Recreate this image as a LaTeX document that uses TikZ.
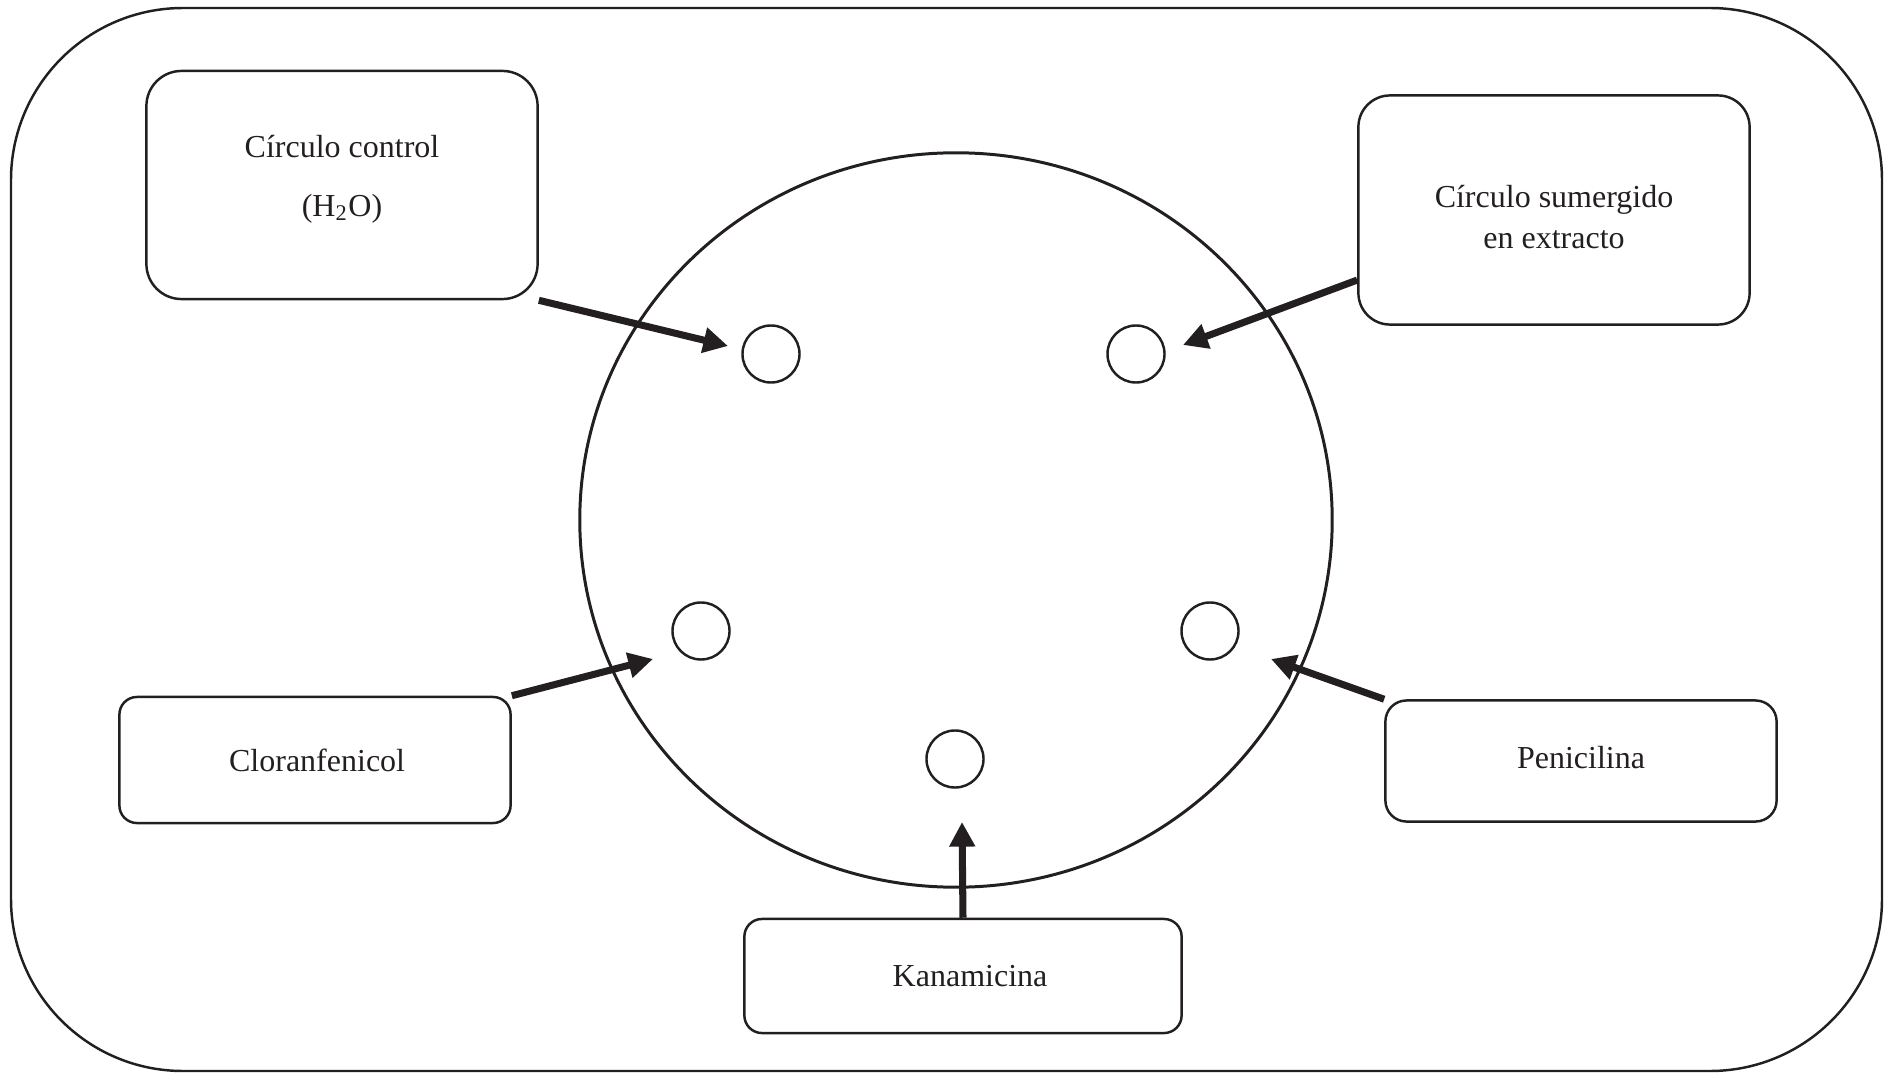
\documentclass[tikz,border=0pt]{standalone}
\usepackage{fontspec}
\setmainfont{Liberation Serif}
\usetikzlibrary{arrows.meta,shapes.geometric}
\definecolor{ink}{HTML}{231F20}

\tikzset{
  box/.style={draw=ink, line width=0.7pt, inner sep=0pt},
  txt/.style={text=ink, inner sep=0pt, align=center, font=\fontsize{9.1}{11.7}\selectfont},
  disc/.style={draw=ink, line width=0.7pt, circle, minimum size=0.57cm, inner sep=0pt},
  pointer/.style={-{Triangle[length=7pt,width=7pt]}, line width=2pt, draw=ink},
}

\begin{document}
\begin{tikzpicture}[x=0.01cm, y=-0.01cm]
  \useasboundingbox (0,0) rectangle (1893,1073);
  % frame
  \draw[ink, line width=0.7pt, rounded corners=1.72cm] (11,8) rectangle (1882,1071);
  % plate and discs
  \node[draw=ink, line width=0.85pt, ellipse, inner sep=0pt,
        minimum width=7.52cm, minimum height=7.34cm] (plate) at (956,520) {};
  \node[disc] (dctrl) at (771,354) {};
  \node[disc] (dext)  at (1136,354) {};
  \node[disc] (dclor) at (701,631) {};
  \node[disc] (dpen)  at (1210,631) {};
  \node[disc] (dkan)  at (955,759) {};
  % label boxes
  \node[box, rounded corners=10pt, minimum width=3.91cm, minimum height=2.28cm] (ctrl) at (342,185) {};
  \node[box, rounded corners=9pt, minimum width=3.91cm, minimum height=2.29cm] (ext) at (1554,210) {};
  \node[box, rounded corners=5pt, minimum width=3.91cm, minimum height=1.26cm] (clor) at (315,760) {};
  \node[box, rounded corners=6pt, minimum width=3.91cm, minimum height=1.21cm] (pen) at (1581,761) {};
  \node[box, rounded corners=5pt, minimum width=4.37cm, minimum height=1.14cm] (kan) at (963,976) {};
  % texts
  \node[txt] (ctrltxt) at ([yshift=1.6pt]ctrl.center) {Círculo control\\[5.3pt](H\textsubscript{2}O)};
  \node[txt] (exttxt)  at ([yshift=-2pt]ext.center) {Círculo sumergido\\en extracto};
  \node[txt] (clortxt) at ([xshift=0.6pt]clor.center) {Cloranfenicol};
  \node[txt] (pentxt)  at ([yshift=1.1pt]pen.center) {Penicilina};
  \node[txt] (kantxt)  at ([xshift=2pt]kan.center) {Kanamicina};
  % arrow tips
  \coordinate (tctrl) at (728,346);
  \coordinate (text)  at (1183,345);
  \coordinate (tclor) at (653,659);
  \coordinate (tpen)  at (1271,659);
  \coordinate (tkan)  at (962,822);
  \draw[pointer] (ctrl.south east) -- (tctrl);
  \draw[pointer] ([yshift=13pt]ext.south west) -- (text);
  \draw[pointer] (clor.north east) -- (tclor);
  \draw[pointer] (pen.north west) -- (tpen);
  \draw[pointer] (kan.north) -- (tkan);
\end{tikzpicture}
\end{document}
